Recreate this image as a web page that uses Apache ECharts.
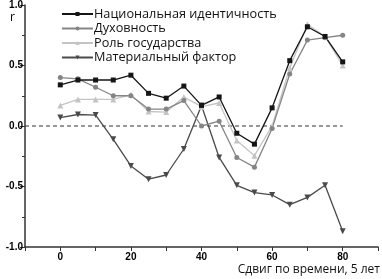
<!DOCTYPE html>
<html>
<head>
<meta charset="utf-8">
<script src="https://cdn.jsdelivr.net/npm/echarts@6/dist/echarts.min.js"></script>
<style>
  html, body { margin: 0; padding: 0; background: #fff; }
  #chart { width: 382px; height: 279px; }
</style>
</head>
<body>
<div id="chart"></div>
<script>
// сдвиг по времени (шаг 5)
var shifts = [0, 5, 10, 15, 20, 25, 30, 35, 40, 45, 50, 55, 60, 65, 70, 75, 80]
var national = [0.34, 0.38, 0.38, 0.38, 0.42, 0.27, 0.23, 0.33, 0.17, 0.24, -0.06, -0.15, 0.15, 0.54, 0.82, 0.74, 0.53]
var spirit = [0.40, 0.39, 0.32, 0.25, 0.25, 0.14, 0.14, 0.21, 0.00, 0.04, -0.26, -0.34, -0.02, 0.43, 0.71, 0.73, 0.75]
var stateRole = [0.17, 0.22, 0.22, 0.22, 0.26, 0.12, 0.115, 0.24, 0.16, 0.19, -0.12, -0.245, 0.00, 0.48, 0.84, 0.74, 0.50]
var material = [0.07, 0.095, 0.09, -0.11, -0.33, -0.44, -0.405, -0.19, 0.17, -0.26, -0.49, -0.55, -0.57, -0.65, -0.59, -0.49, -0.87]
var zeroLine = [[-10, 0], [80, 0]]
var seriesNames = ['Национальная идентичность', 'Духовность', 'Роль государства', 'Материальный фактор']
var xTickLabels = [0, 20, 40, 60, 80]
var yTickLabels = [-1.0, -0.5, 0.0, 0.5, 1.0]

function pairs(vals) {
  return shifts.map(function (x, i) { return [x, vals[i]] })
}

var myChart = echarts.init(document.getElementById('chart'))
var axisLabelStyle = {
  color: '#000',
  fontFamily: 'Liberation Sans',
  fontWeight: 'bold',
  fontSize: 10,
}
var option = {
  animation: false,
  grid: { left: 25, right: 4, top: 5, bottom: 32 },
  legend: {
    orient: 'vertical',
    left: 56,
    top: 2,
    itemWidth: 31,
    itemHeight: 5,
    itemGap: 0.5,
    data: seriesNames,
    textStyle: { fontFamily: 'Open Sans', fontSize: 12.7, lineHeight: 14, color: '#111', padding: [0, 0, 0, -4] },
  },
  xAxis: {
    type: 'value',
    min: -10,
    max: 90,
    interval: 10,
    splitLine: { show: false },
    axisLine: { onZero: false, lineStyle: { color: '#333', width: 1.5 } },
    axisTick: { length: 4, lineStyle: { color: '#333' } },
    axisLabel: Object.assign({
      margin: 5,
      formatter: function (v) {
        return xTickLabels.indexOf(v) >= 0 ? String(v) : ''
      },
    }, axisLabelStyle),
  },
  yAxis: {
    type: 'value',
    min: -1,
    max: 1,
    interval: 0.5,
    splitLine: { show: false },
    axisLine: { show: true, onZero: false, lineStyle: { color: '#333', width: 1.5 } },
    axisTick: { show: true, length: 5, lineStyle: { color: '#333' } },
    minorTick: { show: true, splitNumber: 2, length: 3, lineStyle: { color: '#333' } },
    axisLabel: Object.assign({
      margin: 2,
      formatter: function (v) {
        var hit = yTickLabels.filter(function (t) { return Math.abs(t - v) < 1e-6 })
        return hit.length ? hit[0].toFixed(1) : ''
      },
    }, axisLabelStyle),
  },
  graphic: [
    { type: 'text', left: 10, top: 12, style: { text: 'r', fontFamily: 'Open Sans', fontSize: 12, fill: '#000' } },
    {
      type: 'text', right: 2, top: 264,
      style: { text: 'Сдвиг по времени, 5 лет', fontFamily: 'Open Sans', fontSize: 12, fill: '#111' },
    },
  ],
  series: [
    {
      // пунктир r = 0
      type: 'line',
      data: zeroLine,
      symbol: 'none',
      silent: true,
      z: 1,
      lineStyle: { color: '#333', type: [4, 3], width: 1.2 },
    },
    {
      name: seriesNames[3],
      type: 'line',
      data: pairs(material),
      symbol: 'triangle',
      symbolRotate: 180,
      symbolSize: 6,
      color: '#4a4a4a',
      lineStyle: { width: 1.3 },
    },
    {
      name: seriesNames[2],
      type: 'line',
      data: pairs(stateRole),
      symbol: 'triangle',
      symbolSize: 6,
      color: '#c4c4c4',
      lineStyle: { width: 1.3 },
    },
    {
      name: seriesNames[1],
      type: 'line',
      data: pairs(spirit),
      symbol: 'circle',
      symbolSize: 5,
      color: '#858585',
      lineStyle: { width: 1.3 },
    },
    {
      name: seriesNames[0],
      type: 'line',
      data: pairs(national),
      symbol: 'rect',
      symbolSize: 5,
      color: '#151515',
      lineStyle: { width: 1.3 },
    },
  ],
}
myChart.setOption(option, true)
</script>
</body>
</html>
